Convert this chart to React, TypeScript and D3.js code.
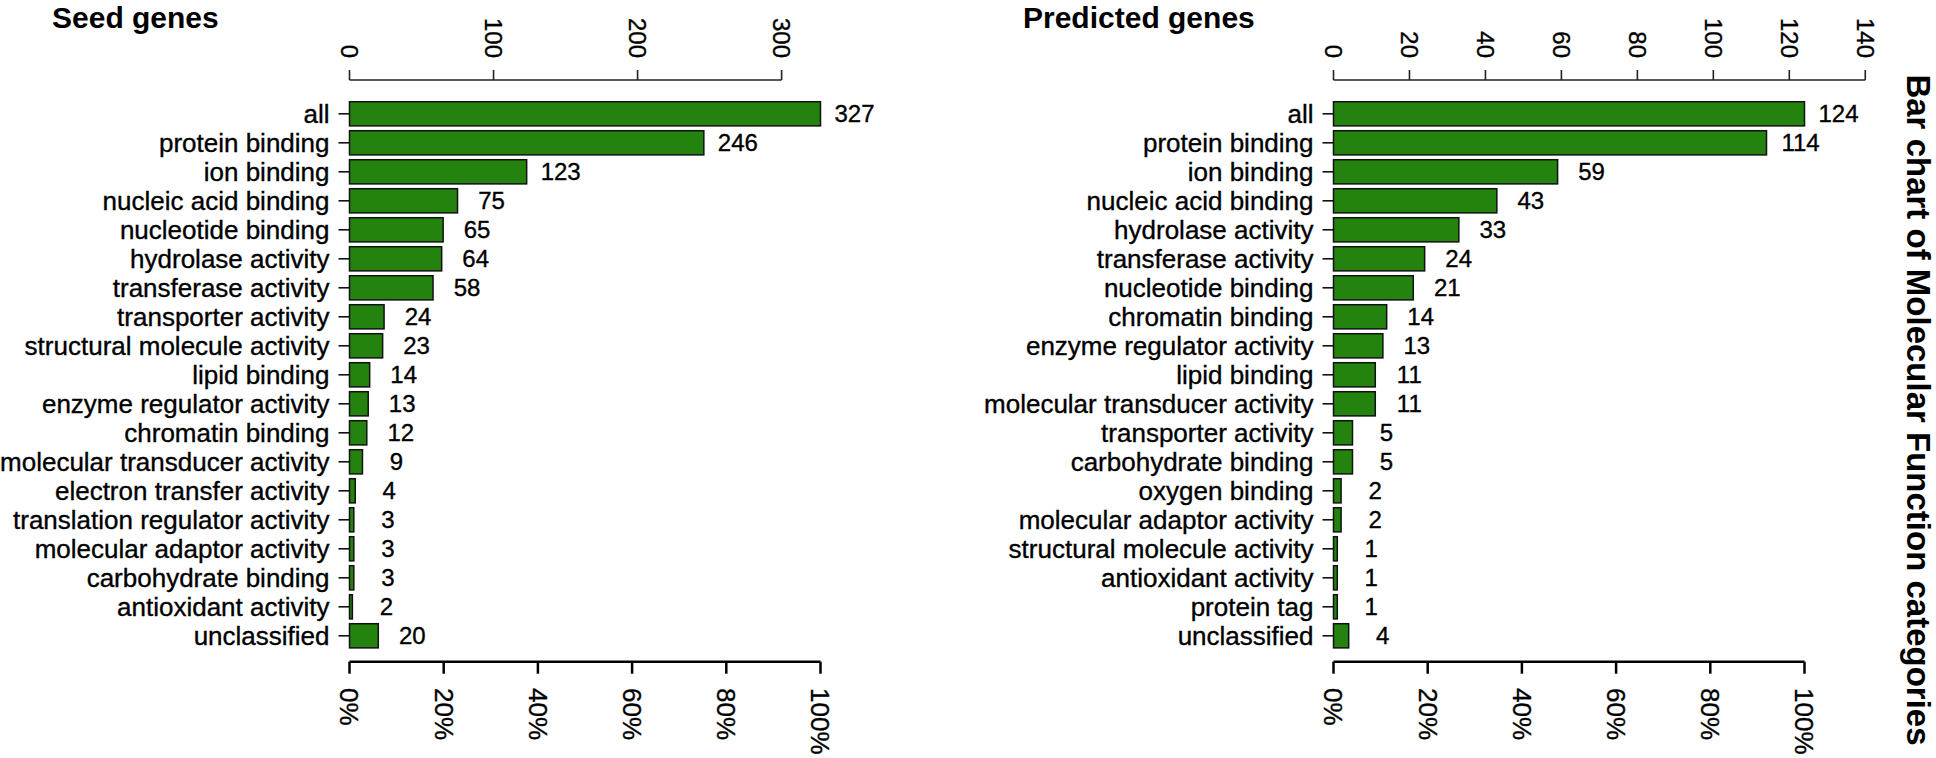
import React, { useRef, useEffect } from "react";
import * as d3 from "d3";

const seedCategories = [
  "all",
  "protein binding",
  "ion binding",
  "nucleic acid binding",
  "nucleotide binding",
  "hydrolase activity",
  "transferase activity",
  "transporter activity",
  "structural molecule activity",
  "lipid binding",
  "enzyme regulator activity",
  "chromatin binding",
  "molecular transducer activity",
  "electron transfer activity",
  "translation regulator activity",
  "molecular adaptor activity",
  "carbohydrate binding",
  "antioxidant activity",
  "unclassified",
];
const seedValues = [327, 246, 123, 75, 65, 64, 58, 24, 23, 14, 13, 12, 9, 4, 3, 3, 3, 2, 20];
const seedTicks = [0, 100, 200, 300];

const predictedCategories = [
  "all",
  "protein binding",
  "ion binding",
  "nucleic acid binding",
  "hydrolase activity",
  "transferase activity",
  "nucleotide binding",
  "chromatin binding",
  "enzyme regulator activity",
  "lipid binding",
  "molecular transducer activity",
  "transporter activity",
  "carbohydrate binding",
  "oxygen binding",
  "molecular adaptor activity",
  "structural molecule activity",
  "antioxidant activity",
  "protein tag",
  "unclassified",
];
const predictedValues = [124, 114, 59, 43, 33, 24, 21, 14, 13, 11, 11, 5, 5, 2, 2, 1, 1, 1, 4];
const predictedTicks = [0, 20, 40, 60, 80, 100, 120, 140];

const percentTicks = [0, 0.2, 0.4, 0.6, 0.8, 1];

const sideTitle = "Bar chart of Molecular Function categories";

const FONT = "'Liberation Sans', Arial, Helvetica, sans-serif";

interface Panel {
  title: string;
  categories: string[];
  values: number[];
  ticks: number[];
  left: number;
  titleX: number;
}

const panels: Panel[] = [
  {
    title: "Seed genes",
    categories: seedCategories,
    values: seedValues,
    ticks: seedTicks,
    left: 349.5,
    titleX: 52,
  },
  {
    title: "Predicted genes",
    categories: predictedCategories,
    values: predictedValues,
    ticks: predictedTicks,
    left: 1333.5,
    titleX: 1023,
  },
];

const App: React.FC = () => {
  const svgRef = useRef<SVGSVGElement>(null);

  useEffect(() => {
    if (!svgRef.current) return;
    const width = 1936;
    const height = 758;
    const plotWidth = 471;
    const topAxisY = 80;
    const bottomAxisY = 661.7;

    const svg = d3
      .select(svgRef.current)
      .attr("width", width)
      .attr("height", height)
      .style("font-family", FONT);
    svg.selectAll("*").remove();

    // texts a touch heavier, like the scanned original
    const heavy = (sel: d3.Selection<SVGTextElement, any, any, any>) =>
      sel.attr("fill", "#000").attr("stroke", "#000").attr("stroke-width", 0.35);

    panels.forEach((p) => {
      const g = svg.append("g");
      const maxVal = d3.max(p.values) ?? 1;
      const x = d3
        .scaleLinear()
        .domain([0, maxVal])
        .range([p.left, p.left + plotWidth]);
      const pct = d3
        .scaleLinear()
        .domain([0, 1])
        .range([p.left, p.left + plotWidth]);
      const y = d3
        .scaleBand<string>()
        .domain(p.categories)
        .range([99.3, 650.3])
        .paddingInner(0.1667)
        .paddingOuter(0.0833);

      // title
      g.append("text")
        .attr("x", p.titleX)
        .attr("y", 28)
        .attr("font-size", 30)
        .attr("font-weight", "bold")
        .text(p.title);

      // top axis (counts)
      const first = p.ticks[0];
      const last = p.ticks[p.ticks.length - 1];
      g.append("line")
        .attr("x1", x(first))
        .attr("x2", x(last))
        .attr("y1", topAxisY)
        .attr("y2", topAxisY)
        .attr("stroke", "#222")
        .attr("stroke-width", 1.6);
      p.ticks.forEach((t) => {
        g.append("line")
          .attr("x1", x(t))
          .attr("x2", x(t))
          .attr("y1", topAxisY)
          .attr("y2", topAxisY - 10)
          .attr("stroke", "#222")
          .attr("stroke-width", 1.6);
        g.append("text")
          .attr("transform", `translate(${x(t)},${58}) rotate(90)`)
          .attr("text-anchor", "end")
          .attr("dy", "0.35em")
          .attr("font-size", 24)
          .call(heavy)
          .text(t);
      });

      // bottom axis (percent)
      g.append("line")
        .attr("x1", pct(0))
        .attr("x2", pct(1))
        .attr("y1", bottomAxisY)
        .attr("y2", bottomAxisY)
        .attr("stroke", "#000")
        .attr("stroke-width", 2.5);
      percentTicks.forEach((t) => {
        g.append("line")
          .attr("x1", pct(t))
          .attr("x2", pct(t))
          .attr("y1", bottomAxisY)
          .attr("y2", bottomAxisY + 12)
          .attr("stroke", "#000")
          .attr("stroke-width", 2.5);
        g.append("text")
          .attr("transform", `translate(${pct(t)},${688}) rotate(90)`)
          .attr("text-anchor", "start")
          .attr("dy", "0.35em")
          .attr("font-size", 26)
          .call(heavy)
          .text(d3.format(".0%")(t));
      });

      // category ticks + labels
      p.categories.forEach((c) => {
        const cy = (y(c) ?? 0) + y.bandwidth() / 2;
        g.append("line")
          .attr("x1", p.left - 11)
          .attr("x2", p.left)
          .attr("y1", cy)
          .attr("y2", cy)
          .attr("stroke", "#111")
          .attr("stroke-width", 1.6);
        g.append("text")
          .attr("x", p.left - 20)
          .attr("y", cy)
          .attr("dy", "0.35em")
          .attr("text-anchor", "end")
          .attr("font-size", 26)
          .call(heavy)
          .text(c);
      });

      // bars
      g.selectAll("rect.bar")
        .data(p.values)
        .enter()
        .append("rect")
        .attr("class", "bar")
        .attr("x", p.left)
        .attr("y", (_, i) => y(p.categories[i]) ?? 0)
        .attr("width", (d) => x(d) - p.left)
        .attr("height", y.bandwidth())
        .attr("fill", "#24820f")
        .attr("stroke", "#111")
        .attr("stroke-width", 1.5);

      // value labels
      g.selectAll<SVGTextElement, number>("text.val")
        .data(p.values)
        .enter()
        .append("text")
        .attr("class", "val")
        .attr("x", (d) => x(d) + 34)
        .attr("y", (_, i) => (y(p.categories[i]) ?? 0) + y.bandwidth() / 2)
        .attr("dy", "0.35em")
        .attr("text-anchor", "middle")
        .attr("font-size", 24)
        .call(heavy)
        .text((d) => d);
    });

    // side title
    svg
      .append("text")
      .attr("transform", `translate(1907,${410}) rotate(90)`)
      .attr("text-anchor", "middle")
      .attr("font-size", 33)
      .attr("font-weight", "bold")
      .text(sideTitle);
  }, []);

  return (
    <svg
      ref={svgRef}
      style={{ position: "absolute", left: 0, top: 0, background: "#fff" }}
    ></svg>
  );
};

export default App;
